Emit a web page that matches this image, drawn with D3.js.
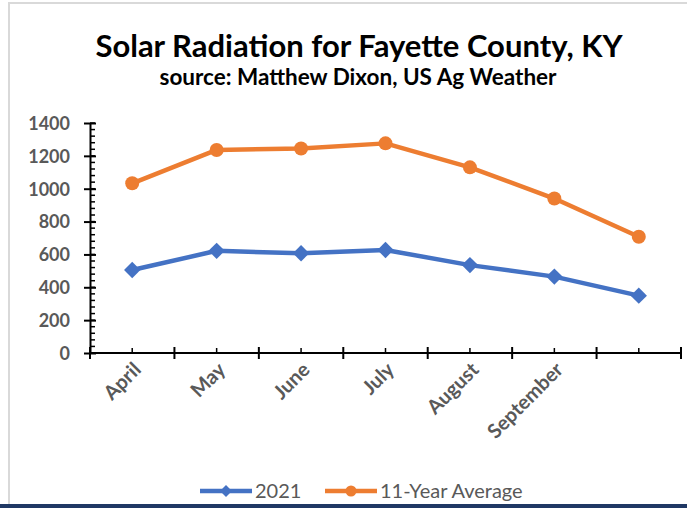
<!DOCTYPE html>
<html>
<head>
<meta charset="utf-8">
<script src="https://cdn.jsdelivr.net/npm/d3@7"></script>
<style>
  html, body { margin: 0; padding: 0; background: #fff; }
  svg { display: block; }
</style>
</head>
<body>
<svg id="chart" width="687" height="508"></svg>
<script>
// Monthly solar radiation, Fayette County KY
const categories = ["April", "May", "June", "July", "August", "September", ""];
const series2021 = [505, 622, 607, 627, 535, 465, 349];
const seriesAverage = [1033, 1236, 1245, 1276, 1130, 940, 708];
const yTicks = [0, 200, 400, 600, 800, 1000, 1200, 1400];
const legendLabels = ["2021", "11-Year Average"];

const BLUE = "#4472C4", ORANGE = "#ED7D31", GRAY = "#595959";
const FONT = "Lato, 'Open Sans', sans-serif";

const svg = d3.select("#chart");

// frame
svg.append("rect").attr("x", 9).attr("y", 3).attr("width", 690).attr("height", 520)
  .attr("fill", "#fff").attr("stroke", "#d9d9d9").attr("stroke-width", 2);
svg.append("rect").attr("x", 0).attr("y", 504).attr("width", 687).attr("height", 4)
  .attr("fill", "#1f3864");

// titles
svg.append("text").attr("x", 359).attr("y", 57).attr("text-anchor", "middle")
  .attr("font-family", FONT).attr("font-weight", 700).attr("font-size", 31)
  .attr("fill", "#000").text("Solar Radiation for Fayette County, KY");
svg.append("text").attr("x", 358).attr("y", 85).attr("text-anchor", "middle")
  .attr("font-family", FONT).attr("font-weight", 700).attr("font-size", 22.5)
  .attr("fill", "#000").text("source: Matthew Dixon, US Ag Weather");

const plotLeft = 90, plotRight = 681, plotTop = 123, plotBottom = 353;

const x = d3.scaleBand().domain(d3.range(categories.length)).range([plotLeft, plotRight]);
const y = d3.scaleLinear().domain([0, 1400]).range([plotBottom, plotTop]);

// y axis with minor ticks
const yMinor = d3.range(0, 1401, 40);
svg.append("g").selectAll("line").data(yMinor).join("line")
  .attr("x1", plotLeft).attr("x2", plotLeft + 5)
  .attr("y1", d => y(d)).attr("y2", d => y(d))
  .attr("stroke", "#000").attr("stroke-width", 1.5);
const yAxis = svg.append("g").attr("transform", `translate(${plotLeft},0)`)
  .call(d3.axisLeft(y).tickValues(yTicks).tickFormat(d3.format("d")).tickSize(6).tickSizeOuter(0));
yAxis.select(".domain").attr("stroke", "#000").attr("stroke-width", 2);
yAxis.selectAll(".tick line").attr("stroke", "#000").attr("stroke-width", 2).attr("x2", -6).attr("x1", 6);
yAxis.selectAll(".tick text").attr("x", -20).attr("dy", "0.35em")
  .attr("font-family", FONT).attr("font-weight", 700).attr("font-size", 18).attr("fill", GRAY);

// x axis: major ticks at category boundaries, minor ticks at centres
const xg = svg.append("g");
xg.append("line").attr("x1", plotLeft).attr("x2", plotRight).attr("y1", plotBottom).attr("y2", plotBottom)
  .attr("stroke", "#000").attr("stroke-width", 2);
const boundaries = d3.range(categories.length + 1).map(i => plotLeft + i * x.bandwidth());
xg.selectAll("line.major").data(boundaries).join("line").attr("class", "major")
  .attr("x1", d => d).attr("x2", d => d).attr("y1", plotBottom - 6).attr("y2", plotBottom + 6)
  .attr("stroke", "#000").attr("stroke-width", 2);
xg.selectAll("line.minor").data(d3.range(categories.length)).join("line").attr("class", "minor")
  .attr("x1", d => x(d) + x.bandwidth() / 2).attr("x2", d => x(d) + x.bandwidth() / 2)
  .attr("y1", plotBottom - 5).attr("y2", plotBottom)
  .attr("stroke", "#000").attr("stroke-width", 1.5);
xg.selectAll("text").data(categories).join("text")
  .attr("transform", (d, i) => `translate(${x(i) + x.bandwidth() / 2 + 10},${plotBottom + 18}) rotate(-45)`)
  .attr("text-anchor", "end")
  .attr("font-family", FONT).attr("font-weight", 700).attr("font-size", 20).attr("fill", GRAY)
  .text(d => d);

// lines
const cx = i => x(i) + x.bandwidth() / 2;
const line = d3.line().x((d, i) => cx(i)).y(d => y(d));

svg.append("path").datum(seriesAverage).attr("d", line)
  .attr("fill", "none").attr("stroke", ORANGE).attr("stroke-width", 4.5).attr("stroke-linejoin", "round");
svg.append("g").selectAll("circle").data(seriesAverage).join("circle")
  .attr("cx", (d, i) => cx(i)).attr("cy", d => y(d)).attr("r", 7).attr("fill", ORANGE);

svg.append("path").datum(series2021).attr("d", line)
  .attr("fill", "none").attr("stroke", BLUE).attr("stroke-width", 4.5).attr("stroke-linejoin", "round");
const diamond = d3.symbol().type(d3.symbolDiamond2).size(170);
svg.append("g").selectAll("path").data(series2021).join("path")
  .attr("transform", (d, i) => `translate(${cx(i)},${y(d)})`)
  .attr("d", diamond).attr("fill", BLUE);

// legend
const lg = svg.append("g").attr("transform", "translate(0,491)");
lg.append("line").attr("x1", 200).attr("x2", 252).attr("stroke", BLUE).attr("stroke-width", 4.5);
lg.append("path").attr("transform", "translate(226,0)")
  .attr("d", d3.symbol().type(d3.symbolDiamond2).size(90)).attr("fill", BLUE);
lg.append("text").attr("x", 255).attr("dy", "0.35em")
  .attr("font-family", FONT).attr("font-size", 20).attr("fill", GRAY).text(legendLabels[0]);
lg.append("line").attr("x1", 325).attr("x2", 377).attr("stroke", ORANGE).attr("stroke-width", 4.5);
lg.append("circle").attr("cx", 351).attr("r", 5.5).attr("fill", ORANGE);
lg.append("text").attr("x", 380).attr("dy", "0.35em")
  .attr("font-family", FONT).attr("font-size", 20).attr("fill", GRAY).text(legendLabels[1]);
</script>
</body>
</html>
